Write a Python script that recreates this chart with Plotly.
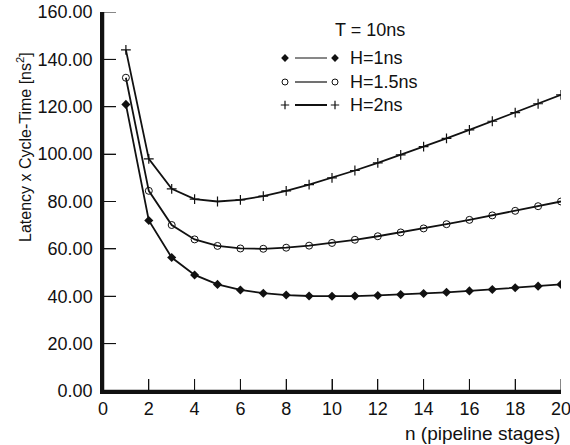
import plotly.graph_objects as go

n_stages = list(range(1, 21))
h1_values = [121.0, 72.0, 56.33, 49.0, 45.0, 42.67, 41.29, 40.5, 40.11, 40.0,
             40.09, 40.33, 40.69, 41.14, 41.67, 42.25, 42.88, 43.56, 44.26, 45.0]
h15_values = [132.25, 84.5, 70.08, 64.0, 61.25, 60.17, 60.04, 60.5, 61.36, 62.5,
              63.84, 65.33, 66.94, 68.64, 70.42, 72.25, 74.13, 76.06, 78.01, 80.0]
h2_values = [144.0, 98.0, 85.33, 81.0, 80.0, 80.67, 82.29, 84.5, 87.11, 90.0,
             93.09, 96.33, 99.69, 103.14, 106.67, 110.25, 113.88, 117.56, 121.26, 125.0]
series_names = ["H=1ns", "H=1.5ns", "H=2ns"]
legend_title = "T = 10ns"
x_ticks = [0, 2, 4, 6, 8, 10, 12, 14, 16, 18, 20]
y_ticks = [0, 20, 40, 60, 80, 100, 120, 140, 160]

FONT = "Liberation Sans"
INK = "#111111"
W, H = 570, 445
ML, MR, MT, MB = 103, 9, 12, 54
PW, PH = W - ML - MR, H - MT - MB
XR = [0, 20]
YR = [0, 160]
XTICK_LEN, YTICK_LEN = 12, 13


def px(xp):
    return (xp - ML) / PW


def py(yp):
    return (H - MB - yp) / PH


def dx(xp):
    # pixel -> x data value (for legend glyphs only)
    return XR[0] + px(xp) * (XR[1] - XR[0])


def dy(yp):
    return YR[0] + py(yp) * (YR[1] - YR[0])


markers = [
    dict(symbol="diamond", size=7, color=INK),
    dict(symbol="circle-open", size=7, color=INK, line=dict(width=1, color=INK)),
    dict(symbol="cross-thin-open", size=7, color=INK, line=dict(width=1.2, color=INK)),
]
all_values = [h1_values, h15_values, h2_values]

fig = go.Figure()

# axis frame (left and bottom) and inward ticks, built from the axis ranges and tick lists
fig.add_trace(go.Scatter(x=[XR[1], XR[0], XR[0]], y=[YR[0], YR[0], YR[1]], mode="lines",
                         line=dict(color=INK, width=2.5), showlegend=False, hoverinfo="skip",
                         cliponaxis=False))
xt_x, xt_y = [], []
x_tick_top = YR[0] + XTICK_LEN / PH * (YR[1] - YR[0])
for v in x_ticks:
    xt_x += [v, v, None]
    xt_y += [YR[0], x_tick_top, None]
yt_x, yt_y = [], []
y_tick_right = XR[0] + YTICK_LEN / PW * (XR[1] - XR[0])
for v in y_ticks:
    yt_x += [XR[0], y_tick_right, None]
    yt_y += [v, v, None]
fig.add_trace(go.Scatter(x=xt_x + yt_x, y=xt_y + yt_y, mode="lines",
                         line=dict(color=INK, width=1), showlegend=False, hoverinfo="skip",
                         cliponaxis=False))

for name, vals, mk in zip(series_names, all_values, markers):
    fig.add_trace(go.Scatter(x=n_stages, y=vals, mode="lines+markers", name=name,
                             line=dict(color=INK, width=1.8), marker=mk,
                             showlegend=False))

# custom legend glyphs (marker - line - marker), placed by pixel position
leg_rows = [58, 82, 105]
leg_widths = [1, 1.2, 2]
for name, mk, yrow, lw in zip(series_names, markers, leg_rows, leg_widths):
    small = dict(mk)
    small["size"] = mk["size"] - 1
    fig.add_trace(go.Scatter(x=[dx(285), dx(335)], y=[dy(yrow), dy(yrow)], mode="markers",
                             marker=small, showlegend=False, hoverinfo="skip"))
    fig.add_trace(go.Scatter(x=[dx(295), dx(327)], y=[dy(yrow), dy(yrow)], mode="lines",
                             line=dict(color=INK, width=lw), showlegend=False, hoverinfo="skip"))
    fig.add_annotation(x=px(348), y=py(yrow), xref="paper", yref="paper", text=name, showarrow=False,
                       xanchor="left", yanchor="middle", font=dict(family=FONT, size=18, color=INK))
fig.add_annotation(x=px(333), y=py(30), xref="paper", yref="paper", text=legend_title, showarrow=False,
                   xanchor="left", yanchor="middle", font=dict(family=FONT, size=18, color=INK))

# axis titles
fig.add_annotation(x=px(24), y=py(147), xref="paper", yref="paper",
                   text="Latency x Cycle-Time [ns<sup>2</sup>]",
                   textangle=-90, showarrow=False, xanchor="center", yanchor="middle",
                   font=dict(family=FONT, size=16, color=INK))
fig.add_annotation(x=px(562), y=py(433), xref="paper", yref="paper", text="n (pipeline stages)",
                   showarrow=False, xanchor="right", yanchor="middle",
                   font=dict(family=FONT, size=19, color=INK))

fig.update_layout(
    width=W, height=H,
    margin=dict(l=ML, r=MR, t=MT, b=MB, pad=0, autoexpand=False),
    paper_bgcolor="white", plot_bgcolor="white",
    font=dict(family=FONT, size=18, color=INK),
    xaxis=dict(range=XR, tickvals=x_ticks, ticks="inside", ticklen=XTICK_LEN, tickwidth=1,
               tickcolor=INK, showline=True, linewidth=2.5, linecolor=INK, showgrid=False,
               zeroline=False, tickfont=dict(family=FONT, size=18, color=INK),
               ticklabeloverflow="allow", automargin=False),
    yaxis=dict(range=YR, tickvals=y_ticks, tickformat=".2f", ticks="inside", ticklen=YTICK_LEN,
               tickwidth=1, tickcolor=INK, showline=True, linewidth=2.5, linecolor=INK,
               showgrid=False, zeroline=False, ticklabelstandoff=4,
               tickfont=dict(family=FONT, size=18, color=INK),
               ticklabeloverflow="allow", automargin=False),
)

fig.write_html("out.html")
